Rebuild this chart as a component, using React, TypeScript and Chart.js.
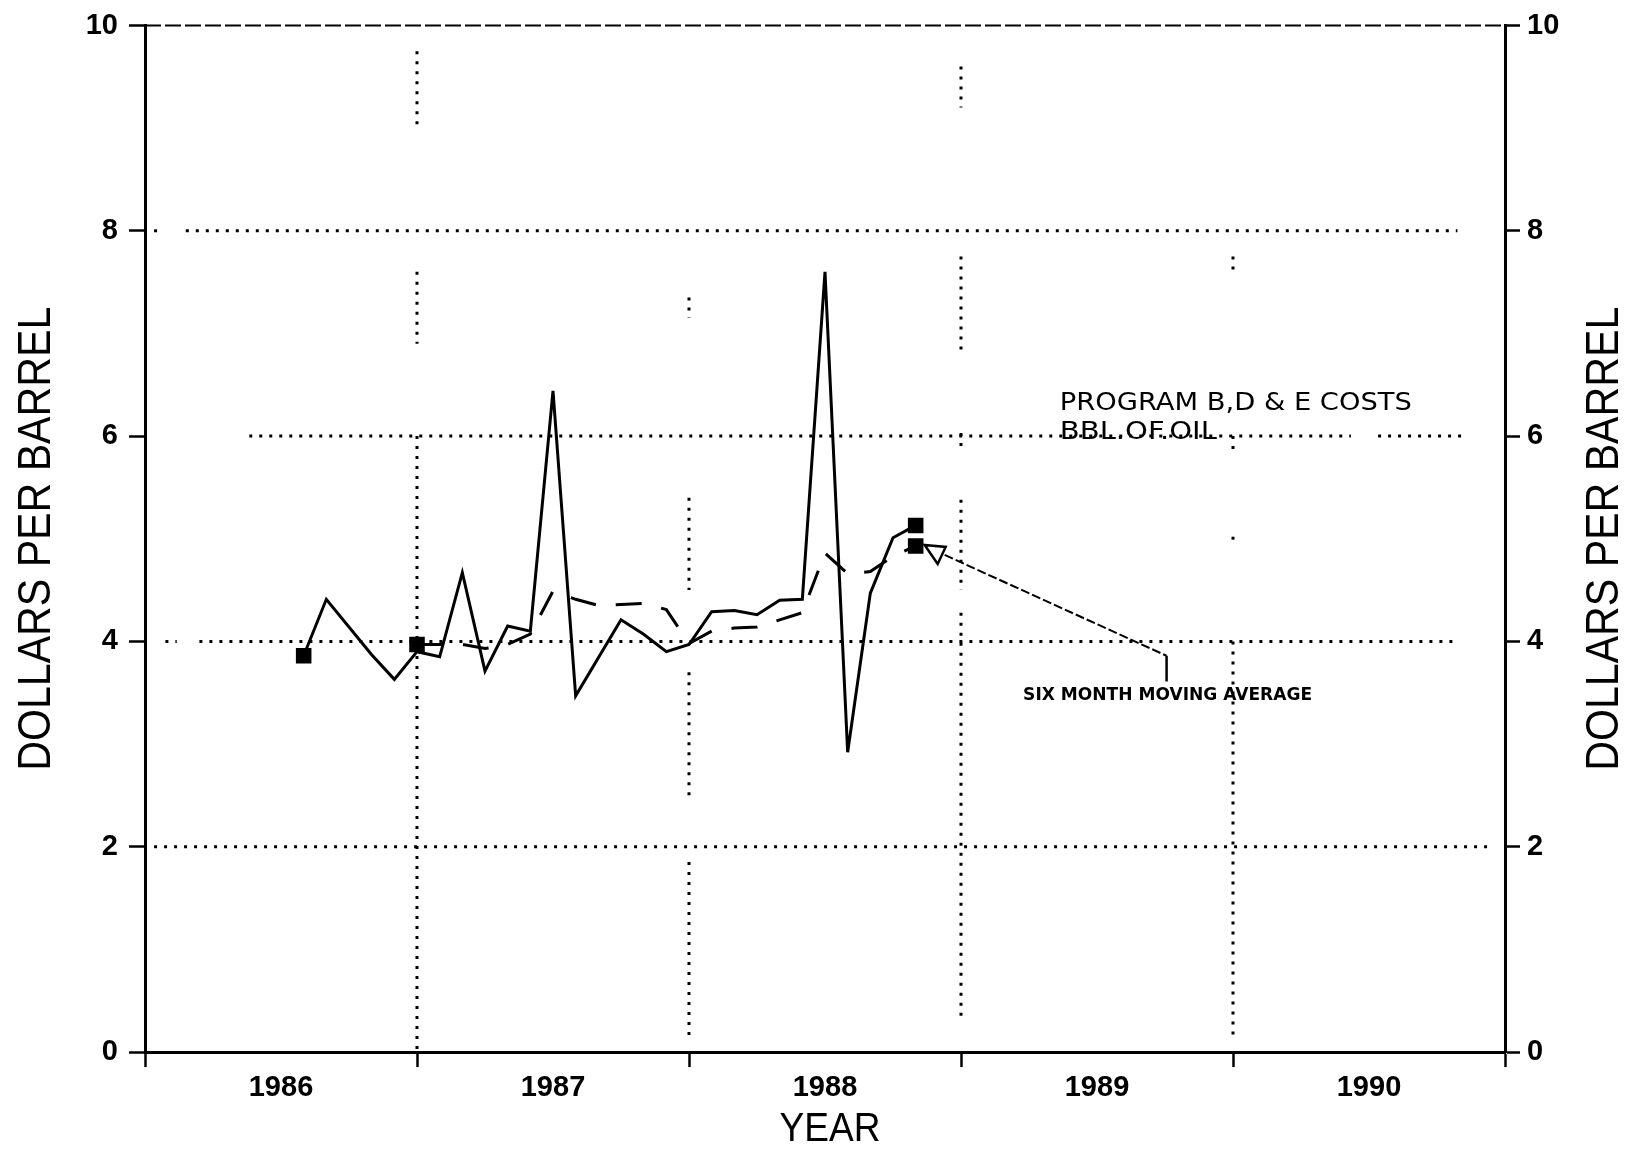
import React, { useEffect, useRef } from 'react';
import { Chart, registerables } from 'chart.js';

Chart.register(...registerables);

// Month index counted from January 1986 (0) to January 1991 (60)
const costMonths = [7, 8, 10, 11, 12, 13, 14, 15, 16, 17, 18, 19, 21, 22, 23, 24, 25, 26, 27, 28, 29, 30, 31, 32, 33, 34];
const costValues = [3.86, 4.41, 3.87, 3.63, 3.9, 3.85, 4.67, 3.71, 4.15, 4.1, 6.44, 3.47, 4.21, 4.07, 3.9, 3.97, 4.29, 4.3, 4.26, 4.4, 4.41, 7.6, 2.92, 4.47, 5.01, 5.13];

const avgMonths = [12, 13, 14, 15, 16, 17, 18, 19, 20, 21, 22, 23, 24, 25, 26, 27, 28, 29, 30, 31, 32, 33, 34];
const avgValues = [3.97, 3.97, 3.97, 3.93, 3.97, 4.07, 4.49, 4.41, 4.35, 4.36, 4.37, 4.31, 3.98, 4.1, 4.13, 4.14, 4.21, 4.28, 4.86, 4.66, 4.68, 4.83, 4.93];

const yearLabels = ['1986', '1987', '1988', '1989', '1990'];
const yTicks = [0, 2, 4, 6, 8, 10];

const costLabel = ['PROGRAM B,D & E COSTS', 'BBL.OF.OIL'];
const avgLabel = 'SIX MONTH MOVING AVERAGE';
const yTitle = 'DOLLARS PER BARREL';
const xTitle = 'YEAR';

// dotted reference lines (as printed, with the gaps of the original)
const hGrid: { value: number; spans: number[][] }[] = [
  { value: 8, spans: [[0.4, 0.8], [1.8, 57.9]] },
  { value: 6, spans: [[4.6, 53.2], [54.4, 58.1]] },
  { value: 4, spans: [[0.9, 1.4], [2.4, 57.7]] },
  { value: 2, spans: [[0.4, 59.5]] },
];
const vGrid: { month: number; spans: number[][] }[] = [
  { month: 12, spans: [[9.0, 9.75], [6.9, 7.6], [0, 6.0]] },
  { month: 24, spans: [[7.15, 7.35], [4.5, 5.4], [2.45, 3.7], [0.1, 1.85]] },
  { month: 36, spans: [[9.2, 9.6], [6.78, 7.75], [5.84, 6.03], [4.5, 5.38], [0.3, 4.28]] },
  { month: 48, spans: [[7.6, 7.75], [5.82, 6.0], [4.96, 5.02], [0.12, 4.0]] },
];

const SANS = "'Liberation Sans', Arial, Helvetica, sans-serif";

function fitText(ctx: CanvasRenderingContext2D, text: string, x: number, y: number, width: number, font: string, align: CanvasTextAlign, rot = 0) {
  ctx.save();
  ctx.font = font;
  const w = ctx.measureText(text).width;
  ctx.translate(x, y);
  if (rot) ctx.rotate(rot);
  ctx.scale(width / w, 1);
  ctx.textAlign = align;
  ctx.textBaseline = 'alphabetic';
  ctx.fillStyle = '#000';
  ctx.fillText(text, 0, 0);
  ctx.restore();
}

const paperPlugin = {
  id: 'paper',
  beforeDraw(chart: any) {
    const { ctx, width, height } = chart;
    ctx.save();
    ctx.fillStyle = '#fff';
    ctx.fillRect(0, 0, width, height);
    ctx.restore();
  },
  beforeDatasetsDraw(chart: any) {
    const { ctx, chartArea } = chart;
    const x = chart.scales.x;
    const y = chart.scales.y;
    ctx.save();
    ctx.strokeStyle = '#000';
    ctx.lineWidth = 3;
    ctx.setLineDash([3, 7]);
    for (const g of hGrid) {
      const py = y.getPixelForValue(g.value);
      for (const [a, b] of g.spans) {
        ctx.beginPath();
        ctx.moveTo(x.getPixelForValue(a), py);
        ctx.lineTo(x.getPixelForValue(b), py);
        ctx.stroke();
      }
    }
    for (const g of vGrid) {
      const px = x.getPixelForValue(g.month);
      for (const [a, b] of g.spans) {
        ctx.beginPath();
        ctx.moveTo(px, y.getPixelForValue(b));
        ctx.lineTo(px, y.getPixelForValue(a));
        ctx.stroke();
      }
    }
    // top frame line
    ctx.setLineDash([16, 4]);
    ctx.lineWidth = 2;
    const ty = y.getPixelForValue(10);
    ctx.beginPath();
    ctx.moveTo(chartArea.left, ty);
    ctx.lineTo(chartArea.right, ty);
    ctx.stroke();
    ctx.restore();
  },
  afterDatasetsDraw(chart: any) {
    const { ctx, chartArea } = chart;
    const x = chart.scales.x;
    const y = chart.scales.y;
    // annotation texts
    fitText(ctx, costLabel[0], x.getPixelForValue(40.36), y.getPixelForValue(6.25), 352, `24px 'DejaVu Sans', sans-serif`, 'left');
    fitText(ctx, costLabel[1], x.getPixelForValue(40.36), y.getPixelForValue(5.975), 157, `24px 'DejaVu Sans', sans-serif`, 'left');
    fitText(ctx, avgLabel, x.getPixelForValue(38.74), y.getPixelForValue(3.425), 289, `bold 17px 'DejaVu Sans', sans-serif`, 'left');

    // pointer from the moving average end marker to its label
    const last = avgMonths.length - 1;
    const px = x.getPixelForValue(avgMonths[last]);
    const py = y.getPixelForValue(avgValues[last]);
    ctx.save();
    ctx.strokeStyle = '#000';
    ctx.lineWidth = 2.5;
    ctx.beginPath();
    ctx.moveTo(px + 9, py - 1);
    ctx.lineTo(px + 30, py + 1);
    ctx.lineTo(px + 22, py + 18);
    ctx.closePath();
    ctx.stroke();
    ctx.lineWidth = 2;
    ctx.setLineDash([9, 3]);
    const ex = x.getPixelForValue(45.07);
    ctx.beginPath();
    ctx.moveTo(px + 29, py + 9);
    ctx.lineTo(ex, y.getPixelForValue(3.86));
    ctx.stroke();
    ctx.setLineDash([]);
    ctx.lineWidth = 2.5;
    ctx.beginPath();
    ctx.moveTo(ex, y.getPixelForValue(3.86));
    ctx.lineTo(ex, y.getPixelForValue(3.61));
    ctx.stroke();
    ctx.restore();

    // axis titles
    const midY = (chartArea.top + chartArea.bottom) / 2;
    fitText(ctx, yTitle, 50, midY, 464, `46px ${SANS}`, 'center', -Math.PI / 2);
    fitText(ctx, yTitle, 1618, midY, 464, `46px ${SANS}`, 'center', -Math.PI / 2);
    fitText(ctx, xTitle, 830, 1141, 101, `40px ${SANS}`, 'center');
  },
};

export default function App() {
  const ref = useRef<HTMLCanvasElement | null>(null);

  useEffect(() => {
    if (!ref.current) return;
    const tickFont = { family: SANS, size: 29, weight: 'bold' as const, lineHeight: 1 };
    const xTickValues = [0, 6, 12, 18, 24, 30, 36, 42, 48, 54, 60];
    const chart = new Chart(ref.current, {
      type: 'line',
      data: {
        datasets: [
          {
            label: 'Costs per barrel',
            data: costMonths.map((m, i) => ({ x: m, y: costValues[i] })),
            borderColor: '#000',
            borderWidth: 3,
            tension: 0,
            pointStyle: 'rect',
            pointBackgroundColor: '#000',
            pointBorderWidth: 0,
            pointRadius: (c: any) => (c.dataIndex === 0 || c.dataIndex === costMonths.length - 1 ? 11 : 0),
          },
          {
            label: 'Six month moving average',
            data: avgMonths.map((m, i) => ({ x: m, y: avgValues[i] })),
            borderColor: '#000',
            borderWidth: 3,
            borderDash: [26, 20],
            tension: 0,
            pointStyle: 'rect',
            pointBackgroundColor: '#000',
            pointBorderWidth: 0,
            pointRadius: (c: any) => (c.dataIndex === 0 || c.dataIndex === avgMonths.length - 1 ? 11 : 0),
          },
        ],
      },
      options: {
        responsive: false,
        devicePixelRatio: 1,
        animation: false,
        layout: { padding: { top: 18, left: 0, right: 0, bottom: 0 } },
        plugins: { legend: { display: false }, tooltip: { enabled: false } },
        scales: {
          x: {
            type: 'linear',
            min: 0,
            max: 60,
            afterBuildTicks: (s: any) => {
              s.ticks = xTickValues.map((v) => ({ value: v }));
            },
            afterFit: (s: any) => {
              s.height = 99;
            },
            ticks: {
              autoSkip: false,
              maxRotation: 0,
              padding: 6,
              color: '#000',
              font: tickFont,
              callback: (v: any) => (v % 12 === 6 ? yearLabels[(v - 6) / 12] : ''),
            },
            grid: {
              drawOnChartArea: false,
              drawTicks: true,
              tickLength: 15,
              tickWidth: 2.5,
              tickColor: (c: any) => (c.tick && c.tick.value % 12 === 0 ? '#000' : 'rgba(0,0,0,0)'),
            },
            border: { display: true, color: '#000', width: 3 },
          },
          y: {
            type: 'linear',
            position: 'left',
            min: 0,
            max: 10,
            afterBuildTicks: (s: any) => {
              s.ticks = yTicks.map((v) => ({ value: v }));
            },
            afterFit: (s: any) => {
              s.width = 145;
            },
            ticks: { padding: 11, color: '#000', font: tickFont },
            grid: { drawOnChartArea: false, drawTicks: true, tickLength: 16, tickWidth: 2.5, tickColor: '#000' },
            border: { display: true, color: '#000', width: 3 },
          },
          y2: {
            type: 'linear',
            position: 'right',
            min: 0,
            max: 10,
            afterBuildTicks: (s: any) => {
              s.ticks = yTicks.map((v) => ({ value: v }));
            },
            afterFit: (s: any) => {
              s.width = 122;
            },
            ticks: { padding: 7, color: '#000', font: tickFont },
            grid: { drawOnChartArea: false, drawTicks: true, tickLength: 15, tickWidth: 2.5, tickColor: '#000' },
            border: { display: true, color: '#000', width: 3 },
          },
        },
      },
      plugins: [paperPlugin],
    } as any);
    return () => chart.destroy();
  }, []);

  return (
    <div style={{ position: 'fixed', left: 0, top: 0, width: 1627, height: 1151, background: '#fff' }}>
      <canvas ref={ref} width={1627} height={1151} style={{ display: 'block' }} />
    </div>
  );
}
